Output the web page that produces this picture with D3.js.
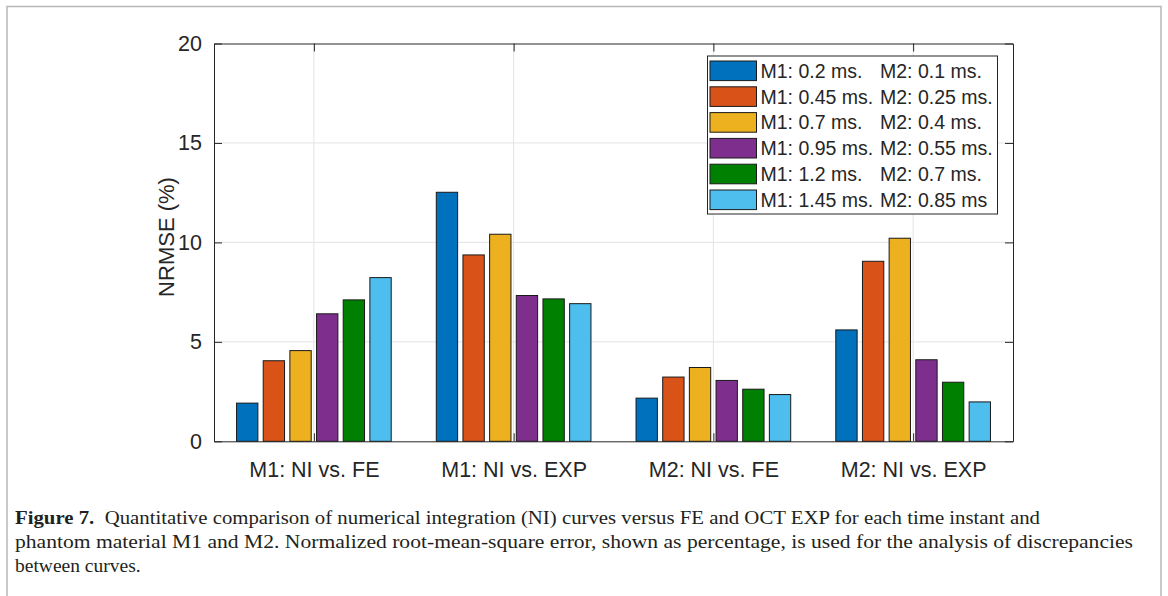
<!DOCTYPE html>
<html><head><meta charset="utf-8">
<script src="https://cdn.jsdelivr.net/npm/d3@7"></script>
<style>body{margin:0;background:#fff}svg{display:block}</style>
</head><body>
<script>
const categories = ["M1: NI vs. FE", "M1: NI vs. EXP", "M2: NI vs. FE", "M2: NI vs. EXP"];
const seriesM1 = ["M1: 0.2 ms.", "M1: 0.45 ms.", "M1: 0.7 ms.", "M1: 0.95 ms.", "M1: 1.2 ms.", "M1: 1.45 ms."];
const seriesM2 = ["M2: 0.1 ms.", "M2: 0.25 ms.", "M2: 0.4 ms.", "M2: 0.55 ms.", "M2: 0.7 ms.", "M2: 0.85 ms"];
const s1 = [1.92, 12.52, 2.17, 5.60];
const s2 = [4.05, 9.37, 3.23, 9.05];
const s3 = [4.56, 10.41, 3.71, 10.21];
const s4 = [6.41, 7.33, 3.06, 4.10];
const s5 = [7.11, 7.16, 2.62, 2.97];
const s6 = [8.23, 6.92, 2.35, 1.98];
const yTicks = [0, 5, 10, 15, 20];
const colors = ["#0072BD", "#D95319", "#EDB120", "#7E2F8E", "#008000", "#4DBEEE"];
const captionLines = [
  ["Figure 7.", "  Quantitative comparison of numerical integration (NI) curves versus FE and OCT EXP for each time instant and"],
  ["", "phantom material M1 and M2. Normalized root-mean-square error, shown as percentage, is used for the analysis of discrepancies"],
  ["", "between curves."]
];
const series = [s1, s2, s3, s4, s5, s6];

const W = 1168, H = 596;
const L = 214, R = 1013, T = 43.5, B = 441.3;
const svg = d3.select("body").append("svg").attr("width", W).attr("height", H);

// page frame
svg.append("path").attr("d", `M7,${H} V6.5 H1161 V${H}`).attr("fill", "none").attr("stroke", "#b8b8b8").attr("stroke-width", 1.5);

const x = d3.scaleLinear().domain([0.5, 4.5]).range([L, R]);
const y = d3.scaleLinear().domain([0, 20]).range([B, T]);

const textCol = "#262626";
const font = "Liberation Sans, Arial, sans-serif";

// grid
const g = svg.append("g");
g.selectAll("line.gy").data(yTicks.slice(1, -1)).join("line")
  .attr("x1", L).attr("x2", R).attr("y1", d => y(d)).attr("y2", d => y(d))
  .attr("stroke", "#e3e3e3").attr("stroke-width", 1);
g.selectAll("line.gx").data(d3.range(1, 5)).join("line")
  .attr("y1", T).attr("y2", B).attr("x1", d => x(d)).attr("x2", d => x(d))
  .attr("stroke", "#e3e3e3").attr("stroke-width", 1);

// bars
const slot = 160 / 6;
series.forEach((s, i) => {
  svg.append("g").selectAll("rect").data(s).join("rect")
    .attr("x", (d, j) => x(j + 1) - 80 + i * slot + slot * 0.1)
    .attr("width", slot * 0.8)
    .attr("y", d => y(d))
    .attr("height", d => y(0) - y(d))
    .attr("fill", colors[i]).attr("stroke", "#1a1a1a").attr("stroke-width", 1);
});

// axes
const axL = d3.axisLeft(y).tickValues(yTicks).tickSizeInner(-8).tickSizeOuter(0).tickPadding(12);
const axR = d3.axisRight(y).tickValues(yTicks).tickSizeInner(-8).tickSizeOuter(0).tickFormat("");
const axB = d3.axisBottom(x).tickValues([1, 2, 3, 4]).tickFormat(d => categories[d - 1]).tickSizeInner(-8).tickSizeOuter(0).tickPadding(20);
const axT = d3.axisTop(x).tickValues([1, 2, 3, 4]).tickFormat("").tickSizeInner(-8).tickSizeOuter(0);
[[axL, `translate(${L},0)`], [axR, `translate(${R},0)`], [axB, `translate(0,${B})`], [axT, `translate(0,${T})`]].forEach(([ax, tr]) => {
  const a = svg.append("g").attr("transform", tr).call(ax);
  a.select(".domain").attr("stroke", textCol).attr("stroke-width", 1);
  a.selectAll(".tick line").attr("stroke", textCol).attr("stroke-width", 1);
  a.selectAll("text").attr("fill", textCol).attr("font-family", font).attr("font-size", 21.5);
});

// y label
svg.append("text").attr("transform", `translate(174,237) rotate(-90)`)
  .attr("text-anchor", "middle").attr("font-family", font).attr("font-size", 22).attr("fill", textCol)
  .text("NRMSE (%)");

// legend
const lg = svg.append("g");
lg.append("rect").attr("x", 707.5).attr("y", 56).attr("width", 290).attr("height", 158)
  .attr("fill", "#fff").attr("stroke", textCol).attr("stroke-width", 1);
colors.forEach((c, i) => {
  const cy = 70.8 + i * 25.8;
  lg.append("rect").attr("x", 710).attr("y", cy - 9.8).attr("width", 46.5).attr("height", 19.6)
    .attr("fill", c).attr("stroke", "#1a1a1a").attr("stroke-width", 1);
  lg.append("text").attr("x", 760.5).attr("y", cy + 7).attr("font-family", font).attr("font-size", 19.5).attr("fill", textCol).text(seriesM1[i]);
  lg.append("text").attr("x", 880).attr("y", cy + 7).attr("font-family", font).attr("font-size", 19.5).attr("fill", textCol).text(seriesM2[i]);
});

// caption
const capY = [524, 548, 572];
const capLen = [1025, 1118, null];
captionLines.forEach((ln, i) => {
  const t = svg.append("text").attr("x", 15).attr("y", capY[i]).attr("font-family", "Liberation Serif, Times New Roman, serif")
    .attr("font-size", 19.5).attr("fill", "#231f20").attr("xml:space", "preserve");
  if (ln[0]) t.append("tspan").attr("font-weight", "bold").text(ln[0]);
  t.append("tspan").text(ln[1]);
  if (capLen[i]) t.attr("textLength", capLen[i]).attr("lengthAdjust", "spacingAndGlyphs");
});
</script>
</body></html>
